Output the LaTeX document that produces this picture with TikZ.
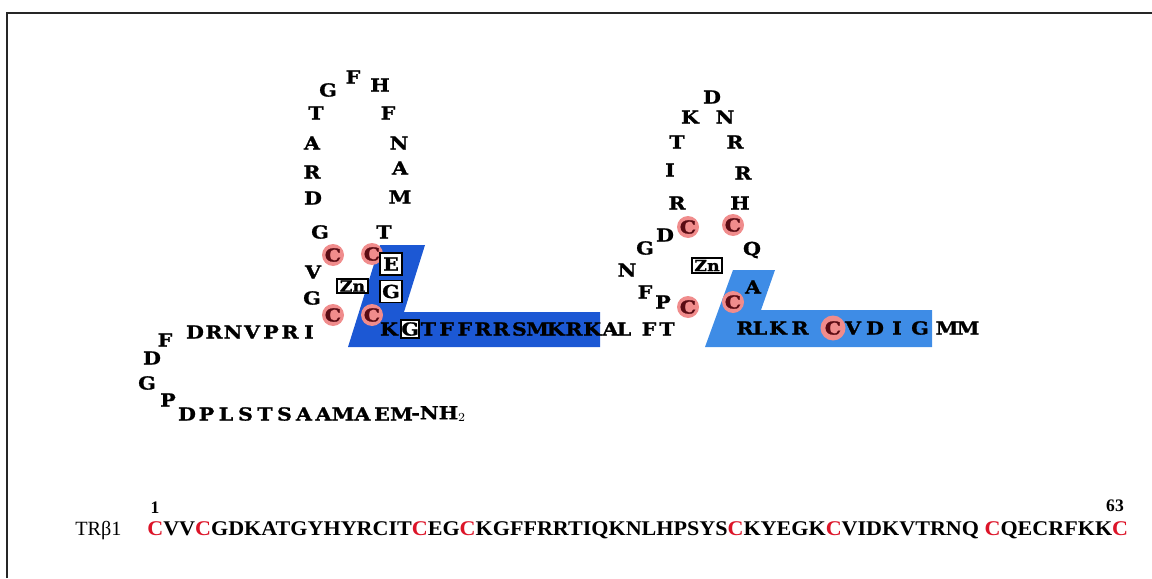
\documentclass[tikz,border=0pt]{standalone}
\usepackage{fontspec}
\setmainfont{Liberation Serif}
\newfontfamily\slabfont[FakeStretch=1.15,FakeBold=1.2]{DejaVu Serif}
\definecolor{helixdark}{RGB}{28,88,212}
\definecolor{helixlight}{RGB}{62,140,230}
\definecolor{pinkc}{RGB}{240,140,140}
\definecolor{cdark}{RGB}{90,12,20}
\definecolor{seqred}{RGB}{220,20,40}
\tikzset{
  aa/.style={font=\slabfont\bfseries\fontsize{10.2}{11}\selectfont, inner sep=0pt},
  cys/.style={aa, text=cdark, circle, fill=pinkc, minimum size=0.44cm},
  boxed/.style={aa, draw=black, line width=1.1pt, fill=white, minimum width=0.44cm, minimum height=0.44cm},
  znbox/.style={font=\slabfont\bfseries\fontsize{8.6}{9}\selectfont, draw=black, line width=1.1pt, fill=white, inner sep=0pt, minimum width=0.61cm, minimum height=0.29cm},
  frameline/.style={line width=1.2pt, black!85},
  seq/.style={font=\fontsize{11.9}{13}\selectfont\bfseries, inner sep=0pt, anchor=base west},
  numlab/.style={font=\fontsize{10}{12}\selectfont\bfseries, inner sep=0pt, anchor=base}
}
\begin{document}
\begin{tikzpicture}[x=0.02cm,y=-0.02cm]
\useasboundingbox (0,0) rectangle (1152,578);
\draw[frameline] (7,578) -- (7,13) -- (1152,13);
% helices
\fill[helixdark] (380,245) -- (425,245) -- (404,312) -- (600,312) -- (600,347) -- (348,347) -- cycle;
\fill[helixlight] (733,270) -- (775,270) -- (761,310) -- (932,310) -- (932,347) -- (705,347) -- cycle;
% ---- zinc finger 1 ----
\node[aa] (a1) at (353,77) {F};
\node[aa] (a2) at (328,90) {G};
\node[aa] (a3) at (380,85) {H};
\node[aa] (a4) at (316,113) {T};
\node[aa] (a5) at (388,113) {F};
\node[aa] (a6) at (312,143) {A};
\node[aa] (a7) at (399,143) {N};
\node[aa] (a8) at (312,172) {R};
\node[aa] (a9) at (400,168) {A};
\node[aa] (a10) at (313,198) {D};
\node[aa] (a11) at (400,197) {M};
\node[aa] (a12) at (320,232) {G};
\node[aa] (a13) at (384,232) {T};
\node[cys] (c1) at (333,255) {C};
\node[cys] (c2) at (372,254) {C};
\node[cys] (c3) at (333,315) {C};
\node[cys] (c4) at (372,315) {C};
\node[boxed] (e1) at (391,264) {E};
\node[boxed] (g1) at (391,291.5) {G};
\node[aa] (v1) at (313,272) {V};
\node[aa] (g2) at (312,298) {G};
\node[znbox] (zn1) at (352.5,286) {Zn};
\node[aa] (f0) at (165,340) {F};
\foreach \l [count=\i] in {D,R,N,V,P,R,I}
  \node[aa] (n\i) at ({195+19*(\i-1)},332) {\l};
\node[aa] (d0) at (152,358) {D};
\node[aa] (g0) at (147,383) {G};
\node[aa] (p0) at (168,400) {P};
\foreach \l [count=\i] in {D,P,L,S,T,S,A,A,M,A,E,M}
  \node[aa] (t\i) at ({187+19.5*(\i-1)},414) {\l};
\node[aa, anchor=west] (nh) at (411,414) {-NH$_2$};
% helix 1 letters
\node[aa] (h1) at (389,329) {K};
\node[boxed, minimum width=0.33cm, minimum height=0.36cm] (h2) at (410.2,329) {G};
\foreach \l [count=\i from 3] in {T,F,F,R,R,S,M,K,R,K,A}
  \node[aa] (h\i) at ({392+18.2*(\i-1)},329) {\l};
\node[aa] (l1) at (624,329) {L};
\node[aa] (l2) at (649,329) {F};
\node[aa] (l3) at (667,329) {T};
% ---- zinc finger 2 ----
\node[aa] (b1) at (712,97) {D};
\node[aa] (b2) at (690,117) {K};
\node[aa] (b3) at (725,117) {N};
\node[aa] (b4) at (677,142) {T};
\node[aa] (b5) at (735,142) {R};
\node[aa] (b6) at (670,170) {I};
\node[aa] (b7) at (743,173) {R};
\node[aa] (b8) at (677,203) {R};
\node[aa] (b9) at (740,203) {H};
\node[aa] (b10) at (665,235) {D};
\node[aa] (b11) at (645,248) {G};
\node[aa] (b12) at (752,250) {Q};
\node[aa] (b13) at (627,270) {N};
\node[aa] (b14) at (753,287) {A};
\node[aa] (b15) at (645,292) {F};
\node[aa] (b16) at (663,302) {P};
\node[cys] (c5) at (688,227) {C};
\node[cys] (c6) at (733,225) {C};
\node[cys] (c7) at (688,307) {C};
\node[cys] (c8) at (733,302) {C};
\node[znbox] (zn2) at (707,265.5) {Zn};
\node[aa] (r1) at (745,328) {R};
\node[aa] (r2) at (760,328) {L};
\node[aa] (r3) at (778,328) {K};
\node[aa] (r4) at (800,328) {R};
\node[cys, minimum size=0.5cm] (r5) at (833,328) {C};
\node[aa] (r6) at (853,328) {V};
\node[aa] (r7) at (875,328) {D};
\node[aa] (r8) at (897,328) {I};
\node[aa] (r9) at (920,328) {G};
\node[aa] (r10) at (947,328) {M};
\node[aa] (r11) at (968,328) {M};
% ---- sequence ----
\node[seq, font=\fontsize{11.5}{13}\selectfont] (trb) at (75,535) {TRβ1};
\node[seq] (sq) at (147,535) {\scalebox{1.056}[1]{\textcolor{seqred}{C}VV\textcolor{seqred}{C}GDKATGYHYRCIT\textcolor{seqred}{C}EG\textcolor{seqred}{C}KGFFRRTIQKNLHPSYS\textcolor{seqred}{C}KYEGK\textcolor{seqred}{C}VIDKVTRNQ \textcolor{seqred}{C}QECRFKK\textcolor{seqred}{C}}};
\node[numlab] (one) at (155,513) {1};
\node[numlab] (six) at (1115,511) {63};
\end{tikzpicture}
\end{document}
